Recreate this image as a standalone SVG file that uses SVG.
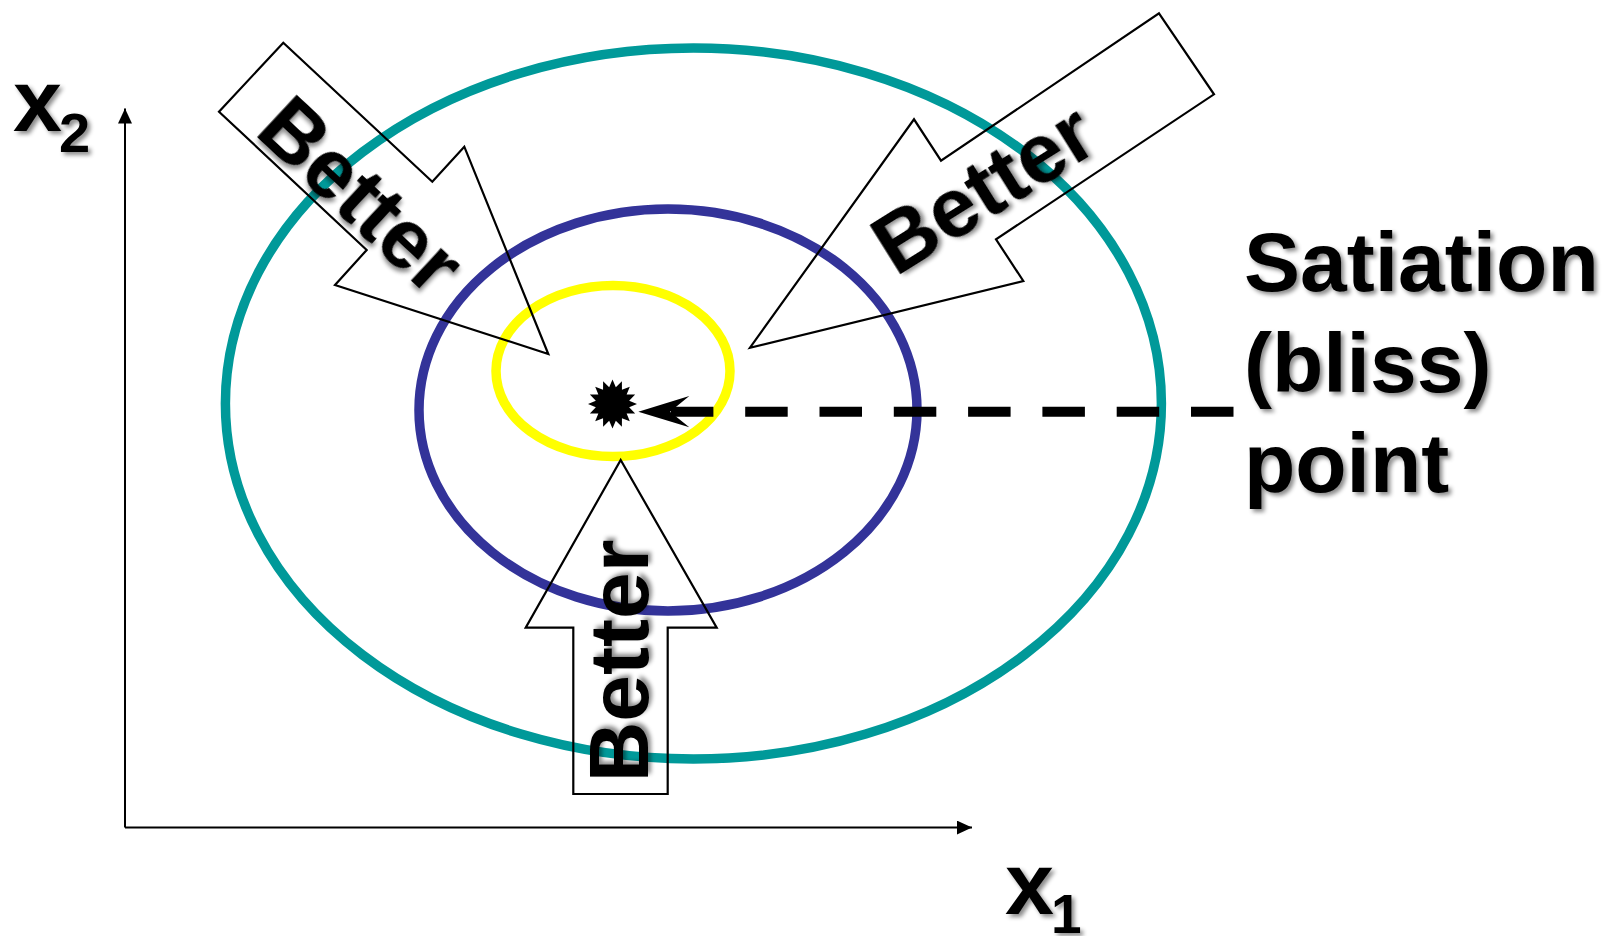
<svg xmlns="http://www.w3.org/2000/svg" width="1606" height="936" viewBox="0 0 1606 936">
  <style>
    .lbl { font-family: "Liberation Sans", Arial, sans-serif; font-weight: bold; fill: #000; }
    .ring { fill: none; stroke-width: 9.5; }
    .big-arrow { fill: none; stroke: #000; stroke-width: 2.2; stroke-linejoin: miter; }
    .axis { stroke: #000; stroke-width: 2; fill: none; }
  </style>
  <defs>
    <filter id="shadow" x="-10%" y="-10%" width="130%" height="130%">
      <feDropShadow dx="3" dy="3" stdDeviation="2" flood-color="#000" flood-opacity="0.45"/>
    </filter>
    <marker id="axisHead" markerUnits="userSpaceOnUse" markerWidth="16" markerHeight="14" refX="15" refY="7" orient="auto">
      <path d="M0,0 L15,7 L0,14 z" fill="#000"/>
    </marker>
  </defs>
  <rect width="1606" height="936" fill="#fff"/>

  <g id="axes">
    <line class="axis" x1="125" y1="827.6" x2="125" y2="108.5" marker-end="url(#axisHead)"/>
    <line class="axis" x1="125" y1="827.6" x2="972" y2="827.6" marker-end="url(#axisHead)"/>
  </g>

  <g id="indifference-curves">
    <ellipse id="curve-outer" class="ring" cx="693.4" cy="403.5" rx="468" ry="355.5" stroke="#009999"/>
    <ellipse id="curve-middle" class="ring" cx="668" cy="410" rx="249" ry="201" stroke="#333399"/>
    <ellipse id="curve-inner" class="ring" cx="613" cy="371" rx="117" ry="85.5" stroke="#FFFF00"/>
  </g>

  <g id="connectors">
    <line x1="1233.5" y1="411.7" x2="670" y2="411.7" stroke="#000" stroke-width="10" stroke-dasharray="42.5 31.8"/>
    <polygon points="638.3,411.7 689.3,396 670,411.7 689.3,427.3" fill="#000"/>
  </g>

  <g id="bliss-point">
    <polygon transform="translate(612.5,404)" fill="#000" points="24.5,0 16.67,3.32 22.64,9.38 14.14,9.45 17.32,17.32 9.45,14.14 9.38,22.64 3.32,16.67 0,24.5 -3.32,16.67 -9.38,22.64 -9.45,14.14 -17.32,17.32 -14.14,9.45 -22.64,9.38 -16.67,3.32 -24.5,0 -16.67,-3.32 -22.64,-9.38 -14.14,-9.45 -17.32,-17.32 -9.45,-14.14 -9.38,-22.64 -3.32,-16.67 0,-24.5 3.32,-16.67 9.38,-22.64 9.45,-14.14 17.32,-17.32 14.14,-9.45 22.64,-9.38 16.67,-3.32"/>
  </g>

  <g id="arrow-left">
    <polygon class="big-arrow" points="283.3,42.7 432.3,181.7 464.3,146.7 548.3,354 335,285 366.7,250 219,111.7"/>
    <text class="lbl" filter="url(#shadow)" font-size="84" text-anchor="middle" transform="translate(341.7,216) rotate(43)">Better</text>
  </g>

  <g id="arrow-right">
    <polygon class="big-arrow" points="1159,13.3 1214,94.3 996,239.3 1023.3,281 750,347.7 914,119.3 941,160.7"/>
    <text class="lbl" filter="url(#shadow)" font-size="84" text-anchor="middle" transform="translate(998.4,212.9) rotate(-32)">Better</text>
  </g>

  <g id="arrow-bottom">
    <polygon class="big-arrow" points="620.7,460 716.7,627.7 667.7,627.7 667.7,794 573.3,794 573.3,627.7 525.7,627.7"/>
    <text class="lbl" filter="url(#shadow)" font-size="84" text-anchor="middle" transform="translate(648,661) rotate(-90)">Better</text>
  </g>

  <g id="label-x2">
    <text class="lbl" filter="url(#shadow)" font-size="88" x="13" y="131">x</text>
    <text class="lbl" filter="url(#shadow)" font-size="56" x="59" y="151.5">2</text>
  </g>

  <g id="label-x1">
    <text class="lbl" filter="url(#shadow)" font-size="88" x="1005" y="914">x</text>
    <text class="lbl" filter="url(#shadow)" font-size="55" x="1051" y="933">1</text>
  </g>

  <g id="label-satiation">
    <text class="lbl" filter="url(#shadow)" font-size="84" x="1244" y="291">Satiation</text>
    <text class="lbl" filter="url(#shadow)" font-size="84" x="1244" y="392">(bliss)</text>
    <text class="lbl" filter="url(#shadow)" font-size="84" x="1244" y="492">point</text>
  </g>
</svg>
